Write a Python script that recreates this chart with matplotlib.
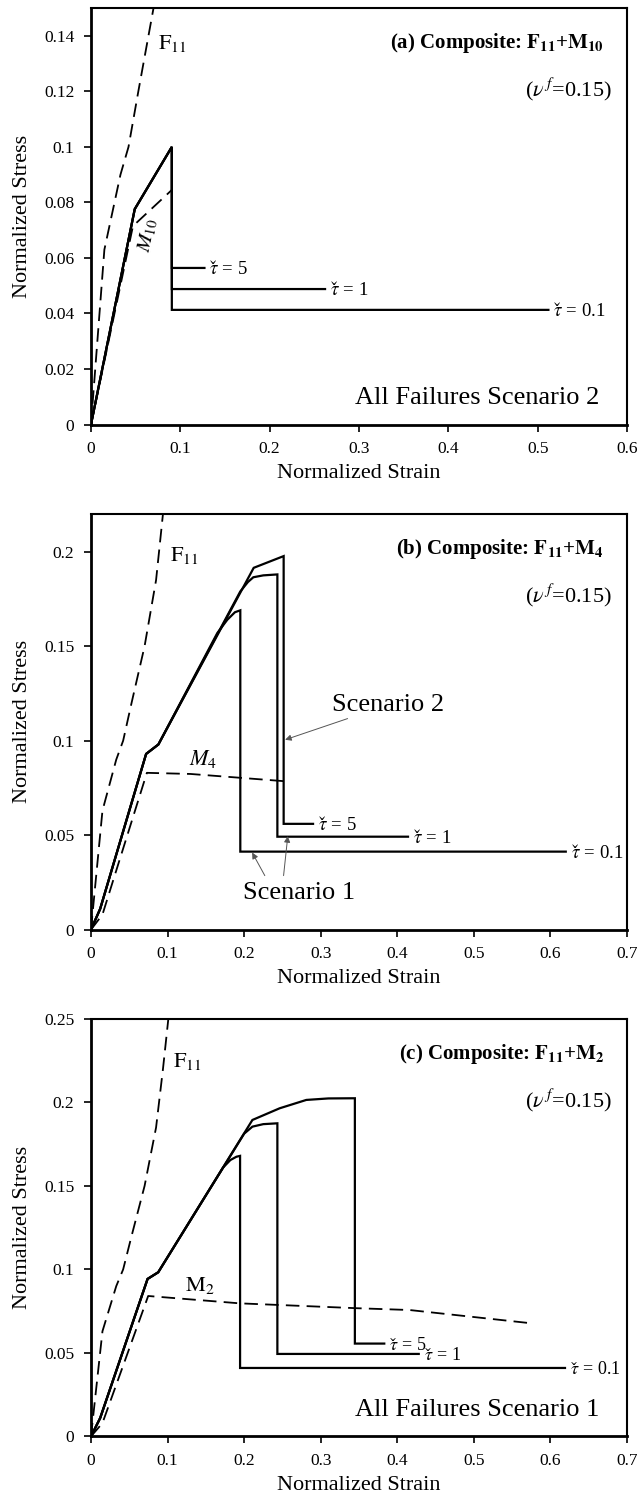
import matplotlib
matplotlib.use("Agg")
import matplotlib.pyplot as plt
from matplotlib.ticker import FuncFormatter, MultipleLocator

plt.rcParams['font.family'] = ['Liberation Serif', 'DejaVu Serif']
plt.rcParams['mathtext.fontset'] = 'stix'

# ---------------- data ----------------
# fiber F11 (same in all panels)
F11_strain = [0, 0.015, 0.033, 0.042, 0.053, 0.07, 0.085, 0.094, 0.101]
F11_stress = [0, 0.063, 0.09, 0.1, 0.12, 0.15, 0.185, 0.22, 0.25]

# panel (a): F11 + M10
a_M10_strain = [0, 0.047, 0.0905]
a_M10_stress = [0, 0.0715, 0.0845]
a_t01_strain = [0, 0.049, 0.0905, 0.0905, 0.512]
a_t01_stress = [0, 0.0776, 0.1, 0.0413, 0.0413]
a_t1_strain = [0, 0.049, 0.0905, 0.0905, 0.262]
a_t1_stress = [0, 0.0776, 0.1, 0.0488, 0.0488]
a_t5_strain = [0, 0.049, 0.0905, 0.0905, 0.127]
a_t5_stress = [0, 0.0776, 0.1, 0.0564, 0.0564]

# panel (b): F11 + M4
b_M4_strain = [0, 0.015, 0.073, 0.13, 0.2516]
b_M4_stress = [0, 0.008, 0.083, 0.0824, 0.0786]
b_t01_strain = [0, 0.012, 0.072, 0.088, 0.165, 0.178, 0.188, 0.195, 0.195, 0.62]
b_t01_stress = [0, 0.011, 0.093, 0.098, 0.157, 0.164, 0.168, 0.169, 0.0413, 0.0413]
b_t1_strain = [0, 0.012, 0.072, 0.088, 0.195, 0.205, 0.212, 0.225, 0.2434, 0.2434, 0.414]
b_t1_stress = [0, 0.011, 0.093, 0.098, 0.179, 0.184, 0.1865, 0.1875, 0.188, 0.0492, 0.0492]
b_t5_strain = [0, 0.012, 0.072, 0.088, 0.2125, 0.2516, 0.2516, 0.29]
b_t5_stress = [0, 0.011, 0.093, 0.098, 0.1915, 0.1977, 0.056, 0.056]

# panel (c): F11 + M2
c_M2_strain = [0, 0.015, 0.0747, 0.194, 0.346, 0.416, 0.57]
c_M2_stress = [0, 0.008, 0.0841, 0.0797, 0.0768, 0.0757, 0.068]
c_t01_strain = [0, 0.012, 0.0739, 0.0878, 0.1725, 0.182, 0.19, 0.1947, 0.1947, 0.619]
c_t01_stress = [0, 0.011, 0.0943, 0.0983, 0.161, 0.1655, 0.1675, 0.168, 0.041, 0.041]
c_t1_strain = [0, 0.012, 0.0739, 0.0878, 0.2, 0.2108, 0.225, 0.2434, 0.2434, 0.428]
c_t1_stress = [0, 0.011, 0.0943, 0.0983, 0.1813, 0.1855, 0.187, 0.1875, 0.0494, 0.0494]
c_t5_strain = [0, 0.012, 0.0739, 0.0878, 0.2108, 0.2464, 0.2812, 0.31, 0.3446, 0.3446, 0.383]
c_t5_stress = [0, 0.011, 0.0943, 0.0983, 0.1895, 0.1965, 0.2015, 0.2024, 0.2025, 0.0556, 0.0556]

tau_values = ['0.1', '1', '5']
TAU_CHECK = r'$\tau\hspace{-0.5}\mathrm{ˇ}\hspace{0.08}$'

# ---------------- figure ----------------
fig = plt.figure(figsize=(6.38, 14.98), dpi=100)
positions = [
    [0.1426, 0.7166, 0.8402, 0.2780],
    [0.1426, 0.3794, 0.8402, 0.2775],
    [0.1426, 0.0411, 0.8402, 0.2787],
]
axes = [fig.add_axes(p) for p in positions]

fmt = FuncFormatter(lambda v, p: '%g' % round(v, 4))
DASH = (0, (7.5, 4))


def style(ax, xmax, ymax, ystep):
    ax.set_xlim(0, xmax)
    ax.set_ylim(0, ymax)
    ax.xaxis.set_major_locator(MultipleLocator(0.1))
    ax.yaxis.set_major_locator(MultipleLocator(ystep))
    ax.xaxis.set_major_formatter(fmt)
    ax.yaxis.set_major_formatter(fmt)
    ax.tick_params(direction='out', length=5, width=1.2, labelsize=12.5, pad=7,
                   top=False, right=False)
    for s in ['left', 'bottom']:
        ax.spines[s].set_linewidth(2.0)
    for s in ['top', 'right']:
        ax.spines[s].set_linewidth(1.5)
    ax.set_xlabel('Normalized Strain', fontsize=16)
    ax.set_ylabel('Normalized Stress', fontsize=16)
    ax.xaxis.set_label_coords(0.5, -0.118)
    ax.xaxis.label.set_va('center')
    ax.yaxis.set_label_coords(-0.128, 0.5)
    ax.yaxis.label.set_va('center')


def composite(ax, curves, size=13.5):
    for (xs, ys), val in zip(curves, tau_values):
        ax.plot(xs, ys, color='black', lw=1.6, solid_joinstyle='miter')
        ax.annotate(TAU_CHECK + ' = ' + val, xy=(xs[-1], ys[-1]), xytext=(3.5, -4.6),
                    textcoords='offset points', fontsize=size, ha='left',
                    va='baseline')


def titles(ax, title):
    ax.text(0.957, 0.915, title, transform=ax.transAxes, fontsize=15,
            fontweight='bold', ha='right', va='center')
    ax.text(0.971, 0.805, r'($\nu^{\,f}$=0.15)', transform=ax.transAxes,
            fontsize=16, ha='right', va='center')


# ---- panel (a)
ax = axes[0]
style(ax, 0.6, 0.15, 0.02)
ax.plot(F11_strain, F11_stress, color='black', lw=1.3, linestyle=DASH)
ax.plot(a_M10_strain, a_M10_stress, color='black', lw=1.3, linestyle=DASH)
composite(ax, [(a_t01_strain, a_t01_stress), (a_t1_strain, a_t1_stress),
               (a_t5_strain, a_t5_stress)])
ax.text(0.0745, 0.1374, r'$\mathrm{F}_{11}$', fontsize=16, ha='left', va='center')
ax.text(0.064, 0.068, r'$M_{10}$', fontsize=15, ha='center', va='center', rotation=78)
titles(ax, r'(a) Composite: $\mathbf{F_{11}}$+$\mathbf{M_{10}}$')
ax.text(0.948, 0.064, 'All Failures Scenario 2', transform=ax.transAxes,
        fontsize=19, ha='right', va='center')

# ---- panel (b)
ax = axes[1]
style(ax, 0.7, 0.22, 0.05)
ax.plot(F11_strain, F11_stress, color='black', lw=1.3, linestyle=DASH)
ax.plot(b_M4_strain, b_M4_stress, color='black', lw=1.3, linestyle=DASH)
composite(ax, [(b_t01_strain, b_t01_stress), (b_t1_strain, b_t1_stress),
               (b_t5_strain, b_t5_stress)])
ax.text(0.103, 0.198, r'$\mathrm{F}_{11}$', fontsize=16, ha='left', va='center')
ax.text(0.146, 0.0905, r'$M_4$', fontsize=16, ha='center', va='center')
titles(ax, r'(b) Composite: $\mathbf{F_{11}}$+$\mathbf{M_4}$')
arrow = dict(arrowstyle='-|>', color='#555555', lw=0.7, mutation_scale=9,
             shrinkA=0, shrinkB=0)
ax.annotate('Scenario 2', xy=(0.2535, 0.1005), xytext=(0.315, 0.119),
            fontsize=19, ha='left', va='center', arrowprops=arrow)
ax.text(0.199, 0.0195, 'Scenario 1', fontsize=19, ha='left', va='center')
ax.annotate('', xy=(0.2105, 0.0408), xytext=(0.227, 0.0286), arrowprops=arrow)
ax.annotate('', xy=(0.257, 0.0495), xytext=(0.2515, 0.0286), arrowprops=arrow)

# ---- panel (c)
ax = axes[2]
style(ax, 0.7, 0.25, 0.05)
ax.plot(F11_strain, F11_stress, color='black', lw=1.3, linestyle=DASH)
ax.plot(c_M2_strain, c_M2_stress, color='black', lw=1.3, linestyle=DASH)
composite(ax, [(c_t01_strain, c_t01_stress), (c_t1_strain, c_t1_stress),
               (c_t5_strain, c_t5_stress)], size=13)
ax.text(0.1065, 0.2245, r'$\mathrm{F}_{11}$', fontsize=16, ha='left', va='center')
ax.text(0.142, 0.0905, r'$\mathrm{M}_2$', fontsize=16, ha='center', va='center')
titles(ax, r'(c) Composite: $\mathbf{F_{11}}$+$\mathbf{M_2}$')
ax.text(0.948, 0.064, 'All Failures Scenario 1', transform=ax.transAxes,
        fontsize=19, ha='right', va='center')

fig.savefig('out.png', dpi=100)
